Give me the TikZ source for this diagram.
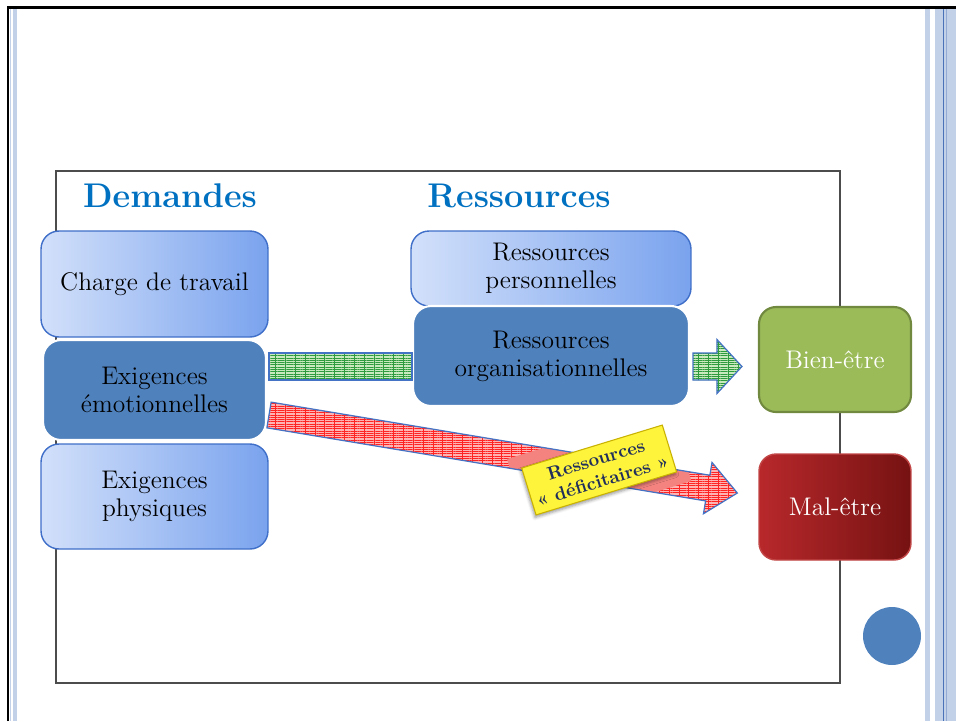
\documentclass[tikz,border=0pt]{standalone}
\usepackage{xcolor}
\usepackage{tikz}
\usetikzlibrary{positioning,shadows.blur,calc,patterns.meta}
\definecolor{titleblue}{HTML}{0070C0}
\definecolor{lightA}{HTML}{D2E0FA}
\definecolor{lightB}{HTML}{7AA3EE}
\definecolor{boxline}{HTML}{3F6FC8}
\definecolor{boxdark}{HTML}{4F81BD}
\definecolor{biengreen}{HTML}{9BBB59}
\definecolor{biendraw}{HTML}{71893F}
\definecolor{malA}{HTML}{B8282B}
\definecolor{malM}{HTML}{9A1D1D}
\definecolor{malB}{HTML}{761212}
\definecolor{malline}{HTML}{C24646}
\definecolor{bandline}{HTML}{4472C4}
\definecolor{greenbg}{HTML}{CBE9BE}
\definecolor{greenln}{HTML}{2E9B3E}
\definecolor{redbg}{HTML}{FFB4B4}
\definecolor{redln}{HTML}{FF2424}
\definecolor{salmon}{HTML}{F4837F}
\definecolor{labelyellow}{HTML}{FFF43C}
\definecolor{labelline}{HTML}{C9B200}
\definecolor{labeltext}{HTML}{1F2D5C}
\definecolor{stripe}{HTML}{C2D0E8}
\definecolor{stripeline}{HTML}{4A72B8}

\newcommand{\arrowcorners}[6]{%
    \coordinate (#1-h) at ($(#3)!#6!(#2)$);
    \coordinate (#1-1) at ($(#2)!#4!90:(#3)$);
    \coordinate (#1-2) at ($(#1-h)!#4!-90:(#2)$);
    \coordinate (#1-3) at ($(#1-h)!#5!-90:(#2)$);
    \coordinate (#1-4) at ($(#1-h)!#5!90:(#2)$);
    \coordinate (#1-5) at ($(#1-h)!#4!90:(#2)$);
    \coordinate (#1-6) at ($(#2)!#4!-90:(#3)$);
}
\newcommand{\arrowoutline}[2]{(#1-1) -- (#1-2) -- (#1-3) -- (#2) -- (#1-4) -- (#1-5) -- (#1-6) -- cycle}

\begin{document}
\begin{tikzpicture}[x=0.02cm,y=-0.02cm,
    every node/.style={font=\fontsize{14.5}{16}\selectfont},
    lightbox/.style={draw=boxline,line width=0.8pt,rounded corners=0.36cm,left color=lightA,right color=lightB,align=center},
    darkbox/.style={draw=white,line width=1.2pt,rounded corners=0.36cm,fill=boxdark,align=center},
    greenband/.style={fill=greenbg,
        postaction={pattern={Lines[angle=0,distance=1.3pt,line width=0.35pt]},pattern color=greenln},
        postaction={pattern={Lines[angle=90,distance=5.6pt,line width=0.35pt]},pattern color=greenln},
        postaction={draw=bandline,line width=0.7pt}},
    redband/.style={fill=redbg,
        postaction={pattern={Lines[angle=0,distance=1.3pt,line width=0.35pt]},pattern color=redln},
        postaction={pattern={Lines[angle=90,distance=5.6pt,line width=0.35pt]},pattern color=redln}},
    title/.style={font=\fontsize{19.5}{22}\selectfont\bfseries,text=titleblue}]
    \useasboundingbox (0,0) rectangle (956,721);

    \fill[stripe] (10,9) rectangle (11.3,721);
    \fill[stripe] (13,9) rectangle (17.3,721);
    \fill[stripe] (925,9) rectangle (930,721);
    \fill[stripe] (935,9) rectangle (956,721);
    \draw[stripeline,line width=0.6pt] (943.3,9) -- (943.3,721);
    \draw[stripeline!60,line width=0.4pt] (946.5,9) -- (946.5,721);
    \draw[line width=1.4pt] (8,721) -- (8,7.5) -- (956,7.5);
    \draw[gray!60!black,line width=0.7pt] (56,171) rectangle (840,683);

    \node[title] (dem) at (170,196) {Demandes};
    \node[title] (res) at (519,196) {Ressources};

    \node[lightbox,minimum width=4.54cm,minimum height=2.12cm] (charge) at (154.5,284) {Charge de travail};
    \node[darkbox,minimum width=4.46cm,minimum height=2cm] (emo) at (154.5,390) {Exigences\\émotionnelles};
    \node[lightbox,minimum width=4.54cm,minimum height=2.1cm] (phys) at (154.5,496.5) {Exigences\\physiques};
    \node[lightbox,minimum width=5.6cm,minimum height=1.5cm] (perso) at (551,268.5) {Ressources\\personnelles};
    \node[darkbox,minimum width=5.52cm,minimum height=2cm] (orga) at (551,356) {Ressources\\organisationnelles};
    \node[fill=biengreen,draw=biendraw,line width=1.2pt,rounded corners=0.34cm,minimum width=3.04cm,minimum height=2.1cm,text=white] (bien) at (835,359.5) {Bien-être};
    \node[left color=malA,middle color=malM,right color=malB,draw=malline,line width=0.8pt,rounded corners=0.34cm,minimum width=3.04cm,minimum height=2.12cm,text=white] (mal) at (835,507) {Mal-être};
    \node[circle,fill=boxdark,minimum size=1.16cm,inner sep=0pt] (dot) at (892,636) {};

    \coordinate (gs) at ($(emo.east)+(2,-23.5)$);
    \coordinate (gs2) at ($(orga.east |- gs)+(3,0)$);
    \coordinate (gt) at ($(bien.west |- gs)+(-16,0)$);
    \path[greenband] ($(gs)+(0,-13.5)$) rectangle ($(orga.west |- gs)+(0,13.5)$);
    \arrowcorners{ga}{gs2}{gt}{0.27cm}{0.54cm}{0.5cm}
    \path[greenband] \arrowoutline{ga}{gt};

    \coordinate (rs) at ($(emo.east)+(2,25)$);
    \coordinate (rt) at ($(mal.west)+(-21,-14)$);
    \arrowcorners{ra}{rs}{rt}{0.26cm}{0.52cm}{0.6cm}
    \path[redband] \arrowoutline{ra}{rt};
    \coordinate (lblc) at ($(rs)!0.705!(rt)$);
    \begin{scope}
        \clip \arrowoutline{ra}{rt};
        \node[fill=salmon,rotate=17,minimum width=3.4cm,minimum height=1.5cm] at (lblc) {};
    \end{scope}
    \draw[bandline,line width=0.7pt] \arrowoutline{ra}{rt};

    \node[fill=labelyellow,draw=labelline,line width=0.6pt,rotate=17,blur shadow={shadow xshift=-0.6pt,shadow yshift=-1.5pt},minimum width=2.94cm,minimum height=0.98cm,inner sep=1pt,align=center,text=labeltext,font=\fontsize{10.5}{12.5}\selectfont\bfseries] (deficit) at (lblc) {Ressources\\«~déficitaires~»};
\end{tikzpicture}
\end{document}
